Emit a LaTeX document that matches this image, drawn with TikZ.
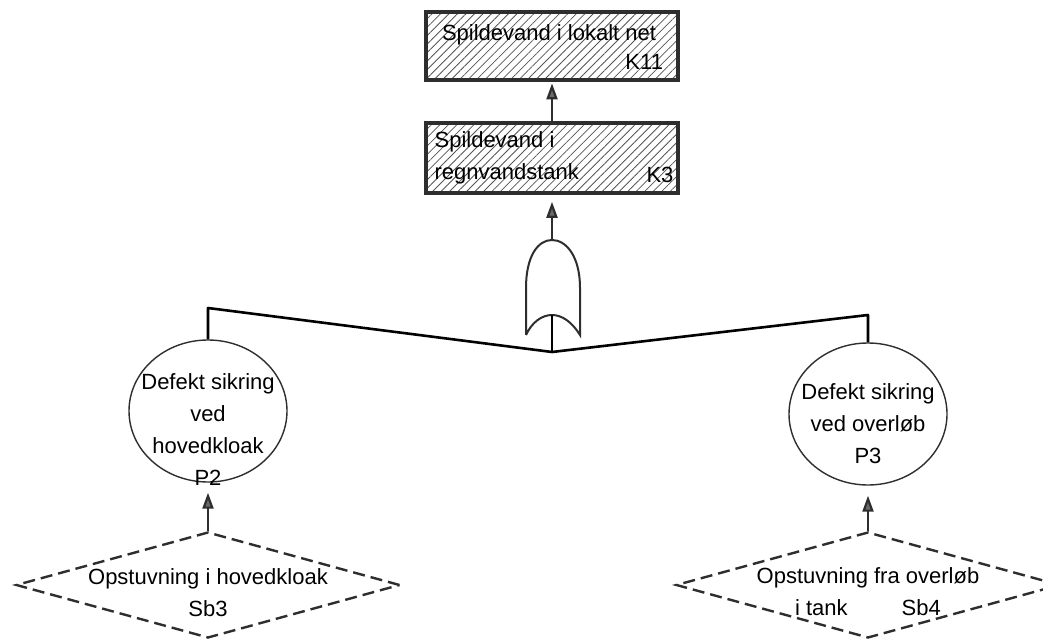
\documentclass[tikz,border=0pt]{standalone}
\usepackage{fontspec}
\setmainfont{Liberation Sans}
\usepackage{tikz}
\usetikzlibrary{shapes.geometric,arrows.meta,patterns.meta}

\begin{document}
\begin{tikzpicture}[x=0.5pt,y=-0.5pt,
  font=\fontsize{11}{16}\selectfont,
  kasse/.style={draw=colEdge, line width=1.8pt,
    pattern={Lines[angle=45,distance=3pt,line width=0.4pt]}, pattern color=colHatch,
    minimum width=126pt, minimum height=34pt, inner sep=0pt},
  haendelse/.style={draw=colEdge, line width=0.7pt, ellipse,
    minimum width=79pt, minimum height=71pt, inner sep=0pt},
  aarsag/.style={draw=colEdge, line width=1.2pt, dash pattern=on 6pt off 3pt,
    diamond, minimum width=192pt, minimum height=53pt, inner sep=0pt},
  tekst/.style={inner sep=0pt, align=center},
  pil/.style={-{Triangle[length=8pt,width=5.5pt,fill=colArrow]}, draw=colEdge, line width=1.1pt},
  trae/.style={draw=black, line width=1.3pt, line join=round},
  gate/.style={draw=colEdge, line width=1pt}]

% Farver
\definecolor{colEdge}{HTML}{2E2E2E}
\definecolor{colHatch}{HTML}{555555}
\definecolor{colArrow}{HTML}{6A6A6A}

\useasboundingbox (0,0) rectangle (1043,641);

% Toppen
\node[kasse, label={[tekst, anchor=west, xshift=8pt, yshift=5.5pt]west:Spildevand i lokalt net},
  label={[tekst, anchor=east, xshift=-7.5pt, yshift=-8pt]east:K11}] (k11) at (552,46) {};
\node[kasse, minimum height=35pt,
  label={[tekst, align=left, anchor=west, xshift=5pt, yshift=0pt]west:Spildevand i\\regnvandstank},
  label={[tekst, anchor=east, xshift=-3pt, yshift=-8.5pt]east:K3}] (k3) at (552,158) {};

% Eller-port
\coordinate (gatetop) at (552,240);
\coordinate (gatein) at (552,315);
\coordinate (junc) at (552,352);
\draw[gate] (526,335) -- (526,288) .. controls (526,256) and (538,240) .. (gatetop)
  .. controls (566,240) and (580,256) .. (580,288) -- (580,335)
  .. controls (572,322) and (562,315) .. (gatein)
  .. controls (542,315) and (532,322) .. (526,335);

% Primaere haendelser
\node[haendelse, label={[tekst, yshift=-9.5pt]center:Defekt sikring\\ved\\hovedkloak\\P2}] (p2) at (208,411) {};
\node[haendelse, label={[tekst, yshift=-5pt]center:Defekt sikring\\ved overløb\\P3}] (p3) at (868,414) {};

% Aarsager
\node[aarsag, label={[tekst, yshift=-4pt]center:Opstuvning i hovedkloak\\Sb3}] (sb3) at (208,585) {};
\node[aarsag, label={[tekst, yshift=-3.5pt]center:Opstuvning fra overløb\\i tank\hspace{27pt}Sb4}] (sb4) at (868,585) {};

% Forbindelser
\coordinate (lhjoerne) at (208,308);
\coordinate (rhjoerne) at (868,315);
\draw[trae] (p2.north) -- (lhjoerne) -- (junc) -- (rhjoerne) -- (p3.north);
\draw[trae] (junc) -- (gatein);

\draw[pil, shorten >=3.5pt] (gatetop) -- (k3);
\draw[pil, shorten >=1.5pt] (k3) -- (k11);
\draw[pil, shorten >=5pt] (sb3) -- (p2);
\draw[pil, shorten >=5pt] (sb4) -- (p3);

\end{tikzpicture}
\end{document}
